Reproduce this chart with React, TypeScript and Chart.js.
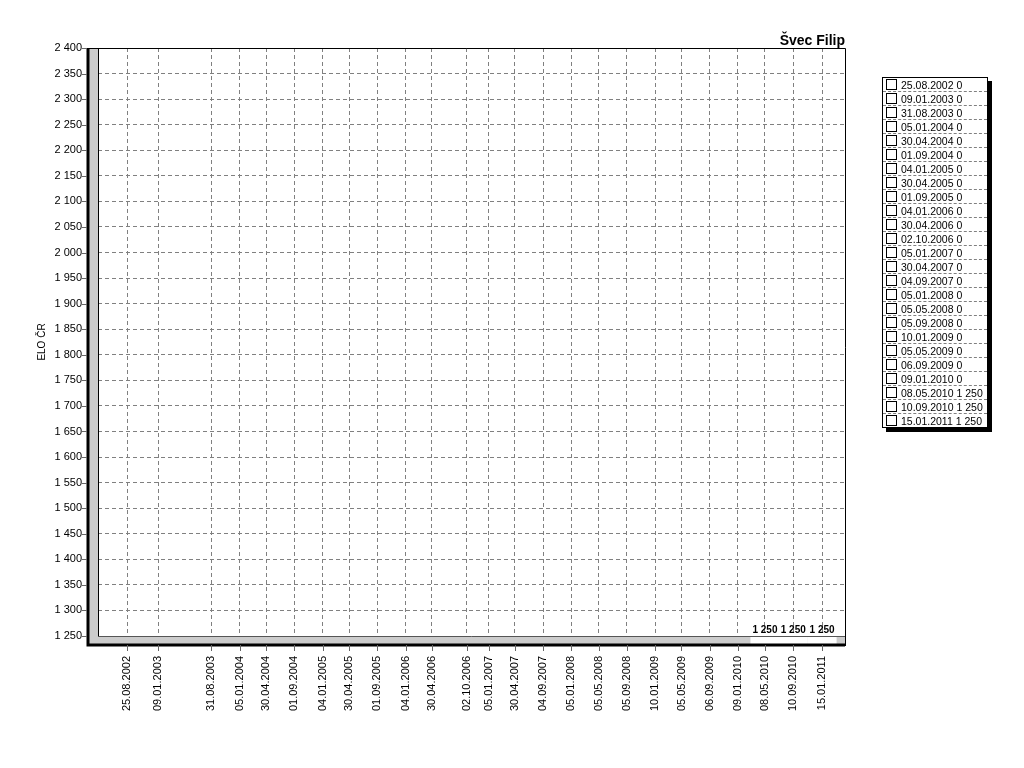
import React, { useEffect, useRef } from "react";
import { Chart, registerables } from "chart.js";

Chart.register(...registerables);

const DATES: string[] = [
  "25.08.2002", "09.01.2003", "31.08.2003", "05.01.2004", "30.04.2004",
  "01.09.2004", "04.01.2005", "30.04.2005", "01.09.2005", "04.01.2006",
  "30.04.2006", "02.10.2006", "05.01.2007", "30.04.2007", "04.09.2007",
  "05.01.2008", "05.05.2008", "05.09.2008", "10.01.2009", "05.05.2009",
  "06.09.2009", "09.01.2010", "08.05.2010", "10.09.2010", "15.01.2011",
];
const ELO: number[] = [
  0, 0, 0, 0, 0, 0, 0, 0, 0, 0, 0, 0, 0, 0, 0, 0, 0, 0, 0, 0, 0, 0, 1250, 1250, 1250,
];
const TITLE = "Švec Filip";
const Y_TITLE = "ELO ČR";
const Y_MIN = 1250;
const Y_MAX = 2400;
const Y_STEP = 50;

const dayNum = (s: string) => {
  const [d, m, y] = s.split(".").map(Number);
  return Math.round(Date.UTC(y, m - 1, d) / 86400000);
};
const DAYS = DATES.map(dayNum);
const X_MIN = DAYS[0] - 128;
const X_MAX = DAYS[DAYS.length - 1] + 101;

const fmt = (v: number) => {
  if (v >= 1000) {
    return `${Math.floor(v / 1000)} ${String(v % 1000).padStart(3, "0")}`;
  }
  return String(v);
};
const dayToLabel = (n: number) => {
  const i = DAYS.indexOf(n);
  return i >= 0 ? DATES[i] : "";
};

const FONT = "'Liberation Sans', Arial, sans-serif";

const framePlugin = {
  id: "frame3d",
  afterDatasetsDraw(chart: any) {
    const { ctx, chartArea } = chart;
    const { left, right, top, bottom } = chartArea;
    const yScale = chart.scales.y;
    const xScale = chart.scales.x;
    const wall = 11;
    const floor = 10;
    ctx.save();
    // left wall
    ctx.fillStyle = "#cccccc";
    ctx.fillRect(left - wall, top, wall, bottom - top + floor);
    // floor
    ctx.fillRect(left - wall, bottom, right - left + wall, floor);
    // flat bars at the floor
    const meta = chart.getDatasetMeta(0);
    meta.data.forEach((el: any, i: number) => {
      const v = ELO[i];
      if (v >= Y_MIN) {
        const hw = 14.5;
        ctx.fillStyle = "#ffffff";
        ctx.fillRect(el.x - hw, bottom, hw * 2, floor);
        ctx.strokeStyle = "#000";
        ctx.lineWidth = 1;
        ctx.beginPath();
        ctx.moveTo(el.x - hw, bottom + 0.5);
        ctx.lineTo(el.x + hw, bottom + 0.5);
        ctx.stroke();
      }
    });
    // outlines
    ctx.strokeStyle = "#000";
    ctx.lineWidth = 1;
    ctx.beginPath();
    ctx.moveTo(left - wall, top + 0.5);
    ctx.lineTo(right + 0.5, top + 0.5);
    ctx.lineTo(right + 0.5, bottom + floor);
    ctx.stroke();
    ctx.beginPath();
    ctx.moveTo(left + 0.5, top);
    ctx.lineTo(left + 0.5, bottom);
    ctx.stroke();
    ctx.lineWidth = 3;
    ctx.beginPath();
    ctx.moveTo(left - wall + 1, top);
    ctx.lineTo(left - wall + 1, bottom + floor - 1);
    ctx.lineTo(right, bottom + floor - 1);
    ctx.stroke();
    ctx.lineWidth = 1;
    ctx.strokeStyle = "#555";
    ctx.beginPath();
    ctx.moveTo(left, bottom + 0.5);
    ctx.lineTo(right, bottom + 0.5);
    ctx.stroke();
    // y tick marks
    ctx.strokeStyle = "#666";
    ctx.lineWidth = 1;
    yScale.ticks.forEach((t: any) => {
      const y = Math.round(yScale.getPixelForValue(t.value)) + 0.5;
      ctx.beginPath();
      ctx.moveTo(left - wall - 5, y);
      ctx.lineTo(left - wall, y);
      ctx.stroke();
    });
    // x tick marks
    DAYS.forEach((d) => {
      const x = Math.round(xScale.getPixelForValue(d)) + 0.5;
      ctx.beginPath();
      ctx.moveTo(x, bottom + floor - 1);
      ctx.lineTo(x, bottom + floor + 5);
      ctx.stroke();
    });
    // value labels
    ctx.fillStyle = "#000";
    ctx.font = `bold 10px ${FONT}`;
    ctx.textAlign = "center";
    ctx.textBaseline = "bottom";
    meta.data.forEach((el: any, i: number) => {
      const v = ELO[i];
      if (v >= Y_MIN) {
        ctx.fillText(fmt(v), el.x, bottom - 1);
      }
    });
    // title
    ctx.font = `bold 14px ${FONT}`;
    ctx.textAlign = "right";
    ctx.textBaseline = "alphabetic";
    ctx.fillText(TITLE, right, 45);
    ctx.restore();
  },
};

export default function App() {
  const ref = useRef<HTMLCanvasElement | null>(null);

  useEffect(() => {
    if (!ref.current) return;
    const chart = new Chart(ref.current, {
      type: "bar",
      data: {
        datasets: [
          {
            label: Y_TITLE,
            data: DAYS.map((d, i) => ({ x: d, y: ELO[i] })),
            backgroundColor: "#ffffff",
            borderWidth: 0,
            barPercentage: 1,
            categoryPercentage: 1,
          },
        ],
      },
      options: {
        responsive: false,
        animation: false,
        layout: { padding: { left: 0, right: 179, top: 48, bottom: 0 } },
        plugins: {
          legend: { display: false },
          title: { display: false },
          tooltip: { enabled: false },
        },
        scales: {
          x: {
            type: "linear",
            min: X_MIN,
            max: X_MAX,
            offset: false,
            afterFit: (s: any) => {
              s.height = 768 - 636;
            },
            afterBuildTicks: (s: any) => {
              s.ticks = DAYS.map((d) => ({ value: d }));
            },
            ticks: {
              autoSkip: false,
              minRotation: 90,
              maxRotation: 90,
              padding: 20,
              color: "#000",
              font: { family: FONT, size: 11 },
              callback: (v: any) => dayToLabel(Number(v)),
            },
            grid: {
              offset: false,
              color: "#808080",
              lineWidth: 1,
              drawTicks: false,
            },
            border: { display: false, dash: [4, 3] },
          },
          y: {
            min: Y_MIN,
            max: Y_MAX,
            afterFit: (s: any) => {
              s.width = 98;
            },
            ticks: {
              stepSize: Y_STEP,
              padding: 16,
              color: "#000",
              font: { family: FONT, size: 11 },
              callback: (v: any) => fmt(Number(v)),
            },
            grid: {
              color: "#808080",
              lineWidth: 1,
              drawTicks: false,
            },
            border: { display: false, dash: [4, 3] },
            title: {
              display: true,
              text: Y_TITLE,
              color: "#000",
              font: { family: FONT, size: 10 },
              padding: { top: 36, bottom: 0 },
            },
          },
        },
      },
      plugins: [framePlugin],
    });
    return () => chart.destroy();
  }, []);

  return (
    <div
      style={{
        position: "fixed",
        left: 0,
        top: 0,
        width: 1024,
        height: 768,
        background: "#fff",
      }}
    >
      <canvas ref={ref} width={1024} height={768} />
      <div
        style={{
          position: "absolute",
          left: 882,
          top: 77,
          width: 104,
          border: "1px solid #000",
          boxShadow: "4px 4px 0 #000",
          background: "#fff",
          fontFamily: FONT,
          fontSize: 10.5,
          color: "#000",
        }}
      >
        {DATES.map((d, i) => (
          <div
            key={d}
            style={{
              height: 13,
              display: "flex",
              alignItems: "center",
              borderBottom: i < DATES.length - 1 ? "1px dashed #808080" : "none",
              whiteSpace: "nowrap",
            }}
          >
            <span
              style={{
                display: "inline-block",
                width: 9,
                height: 9,
                border: "1px solid #000",
                marginLeft: 3,
                marginRight: 4,
                boxSizing: "content-box",
                flexShrink: 0,
              }}
            />
            <span>{`${d} ${fmt(ELO[i])}`}</span>
          </div>
        ))}
      </div>
    </div>
  );
}
